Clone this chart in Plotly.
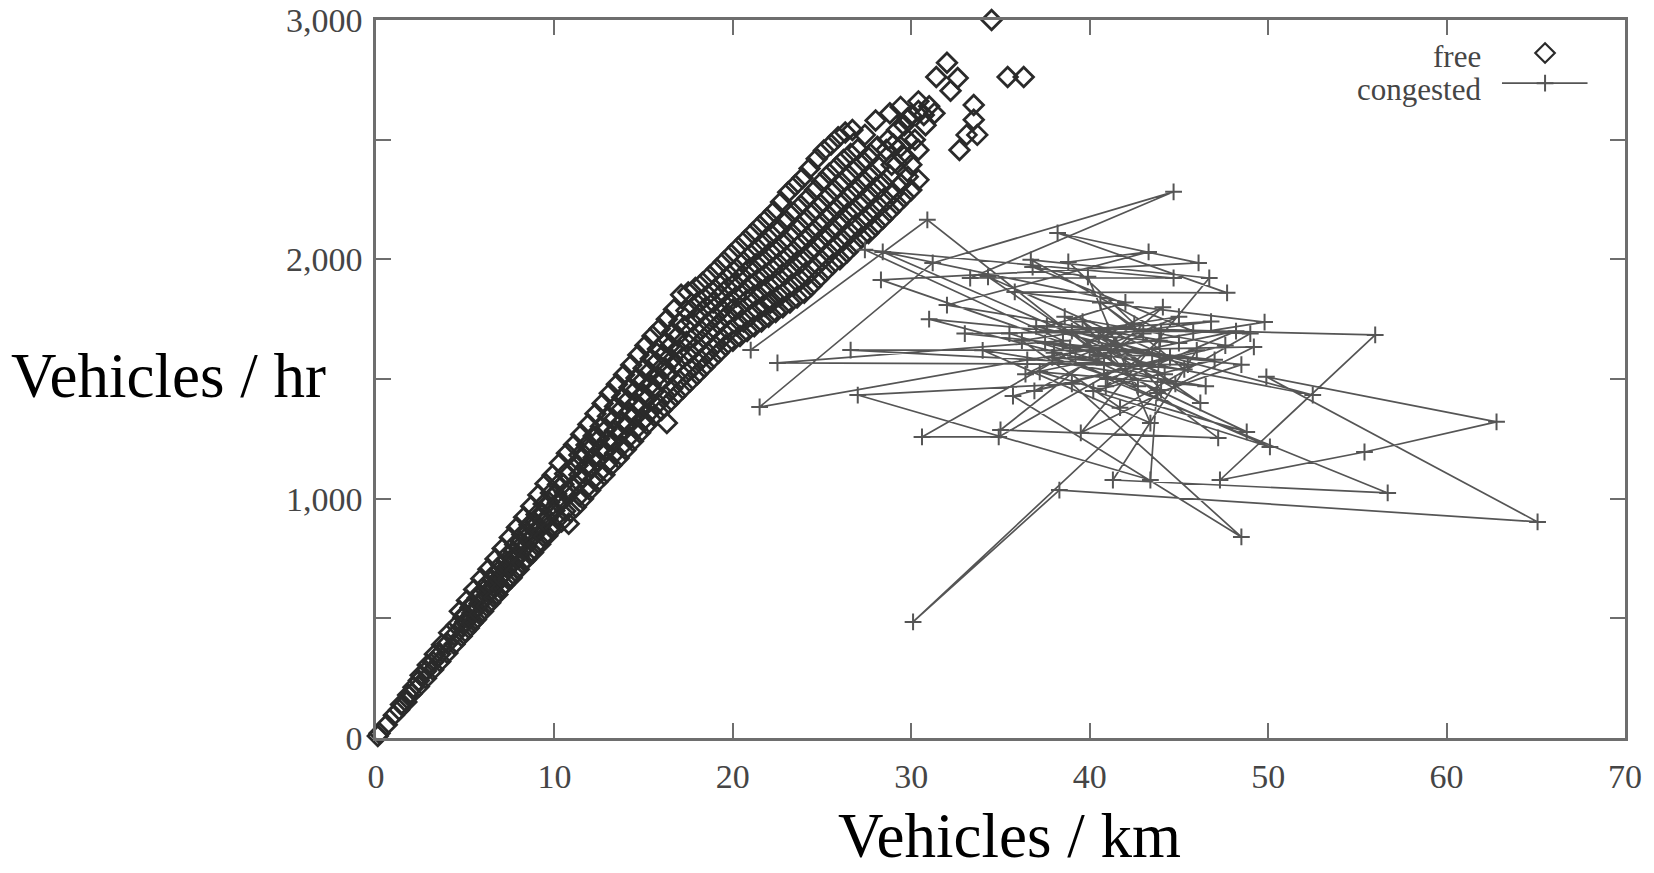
import plotly.graph_objects as go

# ---------------- data ----------------
free_x = [
    0.1, 0.2, 0.6, 1.0,
    1.3, 1.4, 1.7, 1.8, 2.0, 2.1,
    2.4, 2.4, 2.5, 2.8, 2.8, 2.9,
    3.2, 3.2, 3.3, 3.6, 3.6, 3.7,
    4.0, 4.0, 4.1, 4.4, 4.4, 4.5,
    4.8, 4.8, 4.9, 4.7, 5.2, 5.2, 5.3, 5.1,
    5.6, 5.6, 5.7, 5.5, 6.0, 6.0, 6.1, 5.9,
    6.4, 6.4, 6.5, 6.3, 6.8, 6.8, 6.9, 6.7,
    7.2, 7.2, 7.3, 7.1, 7.6, 7.6, 7.7, 7.5,
    8.0, 8.0, 8.1, 7.9, 8.4, 8.4, 8.5, 8.3,
    8.8, 8.8, 8.9, 8.7, 9.2, 9.2, 9.3, 9.1,
    9.6, 9.6, 9.7, 9.5, 10.0, 10.0, 10.1, 9.9,
    10.4, 10.4, 10.5, 10.3, 10.8, 10.9, 10.8, 10.9, 10.7,
    11.2, 11.2, 11.3, 11.1, 11.6, 11.6, 11.7, 11.5,
    12.0, 12.0, 12.1, 11.9, 12.4, 12.4, 12.5, 12.3,
    12.8, 12.8, 12.9, 12.7, 13.2, 13.2, 13.3, 13.1,
    13.6, 13.6, 13.7, 13.5, 14.0, 14.0, 14.1, 13.9,
    14.4, 14.4, 14.5, 14.3, 14.8, 14.8, 14.9, 14.7,
    15.2, 15.2, 15.3, 15.1, 15.6, 15.6, 15.7, 15.5,
    16.0, 16.0, 16.1, 15.9, 16.3, 16.4, 16.4, 16.5, 16.3,
    16.8, 16.8, 16.9, 16.7, 17.2, 17.2, 17.3, 17.1,
    17.6, 17.6, 17.7, 17.5, 18.0, 18.0, 18.1, 17.9,
    18.4, 18.4, 18.5, 18.3, 18.8, 18.8, 18.9, 18.7,
    19.2, 19.2, 19.3, 19.1, 19.6, 19.6, 19.7, 19.5,
    20.0, 20.0, 20.1, 19.9, 20.4, 20.4, 20.5, 20.3,
    20.8, 20.8, 20.9, 20.7, 21.2, 21.2, 21.3, 21.1,
    21.6, 21.6, 21.7, 21.5, 22.0, 22.0, 22.1, 21.9, 22.1,
    22.4, 22.4, 22.5, 22.3, 22.8, 22.8, 22.9, 22.7,
    23.2, 23.2, 23.3, 23.1, 23.6, 23.6, 23.7, 23.5,
    24.0, 24.0, 24.1, 23.9, 24.4, 24.4, 24.5, 24.3,
    24.8, 24.8, 24.9, 24.7, 25.2, 25.2, 25.3, 25.1,
    25.6, 25.6, 25.7, 25.5, 26.0, 26.0, 26.1, 25.9,
    26.4, 26.4, 26.5, 26.3, 26.8, 26.8, 26.9, 26.7,
    27.2, 27.2, 27.3, 27.4, 27.6, 27.6, 27.7,
    28.0, 28.0, 28.1, 28.0, 28.4, 28.4, 28.6, 28.7,
    28.8, 28.8, 28.9, 28.8, 29.2, 29.2, 29.2,
    29.6, 29.6, 29.6, 29.4, 30.0, 30.0, 30.0, 29.8,
    30.4, 30.4, 30.4, 30.4, 30.7, 30.8, 31.0, 31.3,
    31.4, 32.0, 32.6, 32.2, 34.5, 35.4, 36.3,
    33.5, 33.5, 33.7, 33.1, 32.7,
]
free_y = [
    8, 20, 55, 95,
    118, 140, 150, 180, 185, 212,
    215, 240, 262, 250, 280, 305,
    285, 318, 350, 320, 352, 390,
    355, 395, 440, 392, 430, 470,
    425, 465, 505, 530, 460, 500, 545, 575,
    495, 540, 585, 620, 530, 575, 620, 665,
    565, 610, 660, 705, 600, 650, 700, 748,
    640, 690, 740, 792, 670, 725, 780, 838,
    705, 760, 820, 880, 745, 800, 860, 922,
    775, 840, 900, 968, 810, 875, 940, 1015,
    845, 915, 985, 1062, 880, 950, 1020, 1098,
    905, 990, 1060, 1148, 895, 945, 1030, 1110, 1190,
    965, 1060, 1140, 1225, 1000, 1090, 1180, 1268,
    1035, 1130, 1215, 1310, 1070, 1160, 1250, 1355,
    1100, 1200, 1290, 1398, 1140, 1240, 1330, 1440,
    1170, 1270, 1370, 1478, 1205, 1310, 1410, 1518,
    1240, 1345, 1450, 1558, 1275, 1380, 1490, 1600,
    1310, 1420, 1530, 1640, 1345, 1450, 1570, 1680,
    1370, 1490, 1600, 1710, 1316, 1400, 1520, 1640, 1750,
    1430, 1560, 1680, 1790, 1460, 1590, 1720, 1852,
    1490, 1610, 1740, 1862, 1520, 1640, 1770, 1880,
    1550, 1670, 1800, 1902, 1580, 1700, 1820, 1930,
    1610, 1730, 1850, 1960, 1640, 1760, 1880, 1990,
    1660, 1790, 1900, 2020, 1680, 1800, 1930, 2050,
    1700, 1830, 1960, 2080, 1720, 1850, 1980, 2110,
    1740, 1870, 2000, 2140, 1760, 1890, 2030, 2170, 1818,
    1780, 1910, 2050, 2200, 1800, 1940, 2080, 2240,
    1820, 1960, 2110, 2280, 1840, 1990, 2140, 2310,
    1860, 2010, 2170, 2340, 1890, 2040, 2200, 2380,
    1920, 2070, 2230, 2420, 1950, 2100, 2260, 2455,
    1980, 2130, 2290, 2480, 2000, 2160, 2320, 2510,
    2030, 2190, 2350, 2530, 2060, 2210, 2380, 2540,
    2090, 2240, 2410, 2520, 2110, 2270, 2440,
    2140, 2300, 2470, 2580, 2170, 2320, 2457, 2500,
    2200, 2350, 2395, 2610, 2230, 2400, 2540,
    2260, 2430, 2560, 2637, 2290, 2395, 2600, 2590,
    2332, 2457, 2620, 2660, 2603, 2560, 2640, 2610,
    2762, 2821, 2758, 2704, 3000, 2762, 2762,
    2645, 2583, 2520, 2520, 2457,
]
# diamonds that fill the dense middle of the free-flow band
free_fill_x = [
    5.0, 5.0, 5.0, 5.4, 5.4, 5.4,
    5.8, 5.8, 5.8, 6.2, 6.2, 6.2,
    6.6, 6.6, 6.6, 7.0, 7.0, 7.0,
    7.4, 7.4, 7.4, 7.8, 7.8, 7.8,
    8.2, 8.2, 8.2, 8.6, 8.6, 8.6,
    9.0, 9.0, 9.0, 9.4, 9.4, 9.4,
    9.8, 9.8, 9.8, 10.2, 10.2, 10.2,
    10.6, 10.6, 10.6,
    11.4, 11.4, 11.4, 11.8, 11.8, 11.8,
    12.2, 12.2, 12.2, 12.6, 12.6, 12.6,
    13.0, 13.0, 13.0, 13.4, 13.4, 13.4,
    13.8, 13.8, 13.8, 14.2, 14.2, 14.2,
    14.6, 14.6, 14.6, 15.0, 15.0, 15.0,
    15.4, 15.4, 15.4, 15.8, 15.8, 15.8,
    16.2, 16.2, 16.2, 16.6, 16.6, 16.6,
    17.0, 17.0, 17.0, 17.4, 17.4, 17.4,
    17.8, 17.8, 17.8, 18.2, 18.2, 18.2,
    18.6, 18.6, 18.6, 19.0, 19.0, 19.0,
    19.4, 19.4, 19.4, 19.8, 19.8, 19.8,
    20.2, 20.2, 20.2, 20.6, 20.6, 20.6,
    21.0, 21.0, 21.0, 21.4, 21.4, 21.4,
    21.8, 21.8, 21.8, 22.2, 22.2, 22.2,
    22.6, 22.6, 22.6, 23.0, 23.0, 23.0,
    23.4, 23.4, 23.4, 23.8, 23.8, 23.8,
    24.2, 24.2, 24.2, 24.6, 24.6, 24.6,
    25.0, 25.0, 25.0, 25.4, 25.4, 25.4,
    25.8, 25.8, 25.8, 26.2, 26.2, 26.2,
    26.6, 26.6, 26.6, 27.0, 27.0, 27.0,
    27.4, 27.4, 27.8, 27.8,
    28.2, 28.2, 28.6, 29.0, 29.0,
    29.4, 29.4, 29.8, 29.8, 30.2,
]
free_fill_y = [
    445, 485, 518, 480, 522, 560,
    518, 562, 602, 552, 598, 642,
    588, 635, 682, 625, 675, 724,
    665, 715, 766, 698, 752, 809,
    732, 790, 850, 772, 830, 891,
    808, 870, 934, 842, 908, 978,
    880, 950, 1024, 915, 985, 1059,
    948, 1025, 1104,
    1012, 1100, 1182, 1045, 1135, 1224,
    1082, 1172, 1262, 1115, 1205, 1302,
    1150, 1245, 1344, 1190, 1285, 1385,
    1220, 1320, 1424, 1258, 1360, 1464,
    1292, 1398, 1504, 1328, 1435, 1545,
    1365, 1475, 1585, 1398, 1510, 1625,
    1430, 1545, 1655, 1460, 1580, 1695,
    1495, 1620, 1735, 1525, 1655, 1786,
    1550, 1675, 1800, 1580, 1705, 1825,
    1610, 1735, 1851, 1640, 1760, 1875,
    1670, 1790, 1905, 1700, 1820, 1935,
    1725, 1845, 1960, 1740, 1865, 1990,
    1765, 1895, 2020, 1785, 1915, 2045,
    1805, 1935, 2070, 1825, 1960, 2100,
    1845, 1980, 2125, 1870, 2010, 2160,
    1890, 2035, 2195, 1915, 2065, 2225,
    1935, 2090, 2255, 1965, 2120, 2290,
    1995, 2150, 2325, 2025, 2180, 2358,
    2055, 2210, 2385, 2080, 2240, 2415,
    2110, 2270, 2440, 2135, 2295, 2460,
    2165, 2325, 2190, 2355,
    2220, 2385, 2245, 2275, 2480,
    2315, 2470, 2345, 2500, 2500,
]

congested_x = [
    21.0, 30.9, 40.5, 28.3, 46.1, 38.2, 47.7, 35.8, 49.8, 36.5,
    21.5, 31.2, 44.7, 33.3, 44.7, 27.4, 38.5, 22.5, 45.5, 37.0,
    56.0, 47.3, 55.4, 62.8, 49.9, 65.1, 38.3, 30.1, 44.0, 41.0,
    30.6, 34.9, 42.0, 26.6, 40.0, 49.2, 39.5, 46.7, 36.7, 44.0,
    43.4, 27.0, 39.0, 48.5, 35.7, 46.0, 41.3, 56.7, 41.0, 44.5,
    34.3, 43.8, 48.5, 37.5, 52.5, 39.0, 47.2, 35.0, 42.5, 38.8,
    43.3, 32.0, 45.0, 31.0, 40.8, 48.8, 37.2, 46.5, 34.0, 43.4,
    41.5, 39.9, 36.8, 45.8, 33.0, 47.0, 40.2, 50.1, 38.0, 44.2,
    28.4, 42.0, 37.6, 49.0, 41.7, 36.2, 45.0, 39.2, 43.5, 40.5,
    46.8, 35.5, 44.8, 38.6, 47.6, 36.9, 43.0, 40.6, 45.3, 37.9,
    42.7, 39.6, 46.2, 41.2, 44.1, 36.4, 48.2, 40.9, 43.9, 38.9,
]
congested_y = [
    1621, 2165, 1600, 1914, 1985, 2110, 1860, 1864, 1738, 1580,
    1383, 1985, 2282, 1922, 1922, 2040, 1660, 1567, 1560, 1720,
    1684, 1078, 1195, 1321, 1509, 903, 1036, 485, 1454, 1700,
    1258, 1258, 1560, 1621, 1620, 1634, 1275, 1922, 1998, 1700,
    1078, 1433, 1480, 840, 1429, 1620, 1078, 1024, 1500, 1590,
    1927, 1442, 1560, 1650, 1433, 1700, 1254, 1287, 1730, 1989,
    2031, 1809, 1650, 1750, 1560, 1279, 1530, 1470, 1620, 1316,
    1640, 1927, 1968, 1700, 1690, 1580, 1450, 1216, 1610, 1520,
    2031, 1820, 1720, 1690, 1380, 1660, 1760, 1590, 1600, 1680,
    1740, 1690, 1480, 1760, 1640, 1450, 1690, 1820, 1540, 1590,
    1470, 1740, 1400, 1610, 1800, 1520, 1700, 1470, 1660, 1630,
]

x_ticks = [0, 10, 20, 30, 40, 50, 60, 70]
y_ticks = [0, 500, 1000, 1500, 2000, 2500, 3000]
y_ticktext = ["0", "", "1,000", "", "2,000", "", "3,000"]
series_names = ["free", "congested"]
x_title = "Vehicles / km"
y_title = "Vehicles / hr"

# ---------------- styles ----------------
SERIF = "Liberation Serif, Times New Roman, serif"
AXIS_COL = "#6e6e6e"
TICK_TXT = "#454545"
DIAMOND_COL = "#2a2a2a"
LINE_COL = "#555555"

diamond_marker = dict(symbol="diamond-open", size=15, color=DIAMOND_COL,
                      line=dict(width=2.8, color=DIAMOND_COL))
cross_marker = dict(symbol="cross-thin-open", size=12, color=LINE_COL,
                    line=dict(width=2, color=LINE_COL))

fig = go.Figure()

fig.add_trace(go.Scatter(
    x=free_x + free_fill_x, y=free_y + free_fill_y, mode="markers",
    name=series_names[0], cliponaxis=False, marker=diamond_marker,
))
fig.add_trace(go.Scatter(
    x=congested_x, y=congested_y, mode="lines+markers", name=series_names[1],
    line=dict(color=LINE_COL, width=1.7), marker=cross_marker,
))

# legend samples drawn on a hidden overlay axis spanning the plot area (0..1)
fig.add_trace(go.Scatter(
    x=[0.936], y=[0.954], mode="markers", xaxis="x2", yaxis="y2",
    showlegend=False, hoverinfo="skip", cliponaxis=False,
    marker=dict(symbol="diamond-open", size=15, color=DIAMOND_COL,
                line=dict(width=2.2, color=DIAMOND_COL)),
))
fig.add_trace(go.Scatter(
    x=[0.9015, 0.970], y=[0.912, 0.912], mode="lines", xaxis="x2", yaxis="y2",
    showlegend=False, hoverinfo="skip", cliponaxis=False,
    line=dict(color=LINE_COL, width=1.7),
))
fig.add_trace(go.Scatter(
    x=[0.936], y=[0.912], mode="markers", xaxis="x2", yaxis="y2",
    showlegend=False, hoverinfo="skip", cliponaxis=False, marker=cross_marker,
))

axis_common = dict(
    showline=True, linecolor=AXIS_COL, linewidth=2.5, mirror="ticks",
    ticks="inside", ticklen=15, tickwidth=2, tickcolor=AXIS_COL,
    showgrid=False, zeroline=False, automargin=False,
    tickfont=dict(family=SERIF, size=34, color=TICK_TXT),
)

fig.update_layout(
    width=1654, height=873,
    margin=dict(l=376, r=29, t=20, b=135),
    paper_bgcolor="white", plot_bgcolor="white",
    showlegend=False,
    xaxis=dict(range=[0, 70], tickvals=x_ticks, ticklabelstandoff=6, **axis_common),
    yaxis=dict(range=[0, 3000], tickvals=y_ticks, ticktext=y_ticktext,
               ticklabelstandoff=4, **axis_common),
    xaxis2=dict(overlaying="x", range=[0, 1], visible=False),
    yaxis2=dict(overlaying="y", range=[0, 1], visible=False),
    annotations=[
        dict(text=series_names[0], xref="paper", yref="paper", x=0.8855, y=0.949,
             xanchor="right", yanchor="middle", showarrow=False, borderpad=0,
             font=dict(family=SERIF, size=31, color=TICK_TXT)),
        dict(text=series_names[1], xref="paper", yref="paper", x=0.8855, y=0.903,
             xanchor="right", yanchor="middle", showarrow=False, borderpad=0,
             font=dict(family=SERIF, size=31, color=TICK_TXT)),
        dict(text=x_title, xref="paper", yref="paper", x=0.5076, y=-0.1875,
             xanchor="center", yanchor="bottom", showarrow=False,
             font=dict(family=SERIF, size=63, color="black")),
        dict(text=y_title, xref="paper", yref="paper", x=-0.166, y=0.504,
             xanchor="center", yanchor="middle", showarrow=False,
             font=dict(family=SERIF, size=63, color="black")),
    ],
)

fig.write_html("out.html")
